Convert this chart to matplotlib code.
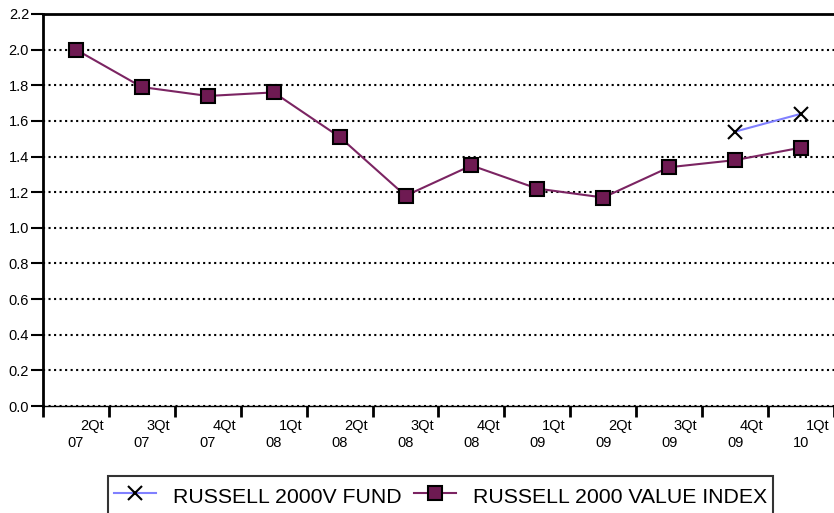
import matplotlib.pyplot as plt
from matplotlib.ticker import FormatStrFormatter

plt.rcParams['font.family'] = ['Liberation Sans', 'DejaVu Sans']

# quarterly data
quarters = ['2Qt', '3Qt', '4Qt', '1Qt', '2Qt', '3Qt', '4Qt', '1Qt', '2Qt', '3Qt', '4Qt', '1Qt']
years = ['07', '07', '07', '08', '08', '08', '08', '09', '09', '09', '09', '10']
index_values = [2.00, 1.79, 1.74, 1.76, 1.51, 1.18, 1.35, 1.22, 1.17, 1.34, 1.38, 1.45]
fund_x = [10, 11]
fund_values = [1.54, 1.64]

fig = plt.figure(figsize=(8.34, 5.13), dpi=100)
ax = fig.add_axes([43 / 834, 1 - 406 / 513, 1 - 43 / 834, (406 - 14) / 513])

x = list(range(len(index_values)))
fund_line, = ax.plot(fund_x, fund_values, color='#8080ff', lw=1.5, marker='x',
                     ms=10, mec='black', mew=1.5, label='RUSSELL 2000V FUND', zorder=4)
idx_line, = ax.plot(x, index_values, color='#7b2462', lw=1.5, marker='s', ms=10,
                    mfc='#6e1a52', mec='black', mew=1.5,
                    label='RUSSELL 2000 VALUE INDEX', zorder=4)

ax.set_xlim(-0.5, 11.5)
ax.set_ylim(0, 2.2)
ax.set_yticks([i * 0.2 for i in range(12)])
ax.yaxis.set_major_formatter(FormatStrFormatter('%.1f'))
ax.grid(axis='y', linestyle=':', color='black', lw=1.5)
ax.set_axisbelow(True)

ax.set_xticks([i - 0.5 for i in range(13)])
ax.set_xticklabels([])
ax.tick_params(axis='x', length=8, width=2, direction='out')
ax.tick_params(axis='y', length=9, width=1.5, direction='out', labelsize=10.5, pad=1)

for s in ['left', 'top']:
    ax.spines[s].set_linewidth(2)
ax.spines['right'].set_visible(False)
ax.spines['bottom'].set_linewidth(1)

trans = ax.get_xaxis_transform()
for i, (q, yr) in enumerate(zip(quarters, years)):
    ax.text(i + 0.43, -0.052, q, transform=trans, ha='right', va='center', fontsize=10.5)
    ax.text(i, -0.094, yr, transform=trans, ha='center', va='center', fontsize=10.5)

leg = fig.legend(handles=[fund_line, idx_line], loc='upper left',
                 bbox_to_anchor=(108 / 834, 1 - 476 / 513), ncol=2, fontsize=15.3,
                 frameon=True, fancybox=False, edgecolor='black', handlelength=1.95,
                 handleheight=1.6, columnspacing=0.6, handletextpad=0.8,
                 borderpad=0.3, borderaxespad=0)
leg.get_frame().set_linewidth(1.5)

fig.savefig('out.png', dpi=100)
